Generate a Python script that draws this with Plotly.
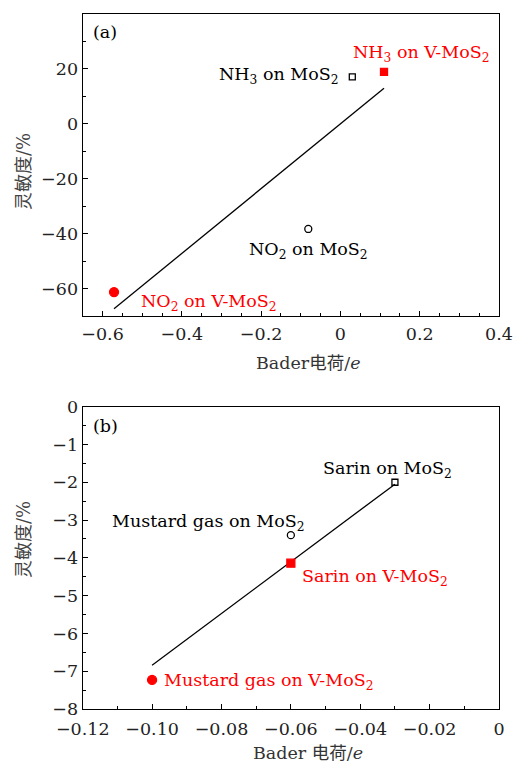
import plotly.graph_objects as go
from plotly.subplots import make_subplots

# ---------- data: panel (a) ----------
a_labels = ["NO<sub>2</sub> on V-MoS<sub>2</sub>", "NH<sub>3</sub> on V-MoS<sub>2</sub>",
            "NH<sub>3</sub> on MoS<sub>2</sub>", "NO<sub>2</sub> on MoS<sub>2</sub>"]
a_x = [-0.571, 0.11, 0.03, -0.081]
a_y = [-61.3, 18.9, 17.1, -38.3]
a_fit_x = [-0.571, 0.11]
a_fit_y = [-67.4, 13.0]
a_xticks = [-0.6, -0.4, -0.2, 0, 0.2, 0.4]
a_xticktext = ["−0.6", "−0.4", "−0.2", "0", "0.2", "0.4"]
a_yticks = [-60, -40, -20, 0, 20]
a_yticktext = ["−60", "−40", "−20", "0", "20"]

# ---------- data: panel (b) ----------
b_labels = ["Mustard gas on V-MoS<sub>2</sub>", "Sarin on V-MoS<sub>2</sub>",
            "Mustard gas on MoS<sub>2</sub>", "Sarin on MoS<sub>2</sub>"]
b_x = [-0.100, -0.060, -0.060, -0.030]
b_y = [-7.23, -4.14, -3.40, -2.00]
b_fit_x = [-0.100, -0.030]
b_fit_y = [-6.84, -2.05]
b_xticks = [-0.12, -0.10, -0.08, -0.06, -0.04, -0.02, 0]
b_xticktext = ["−0.12", "−0.10", "−0.08", "−0.06", "−0.04", "−0.02", "0"]
b_yticks = [0, -1, -2, -3, -4, -5, -6, -7, -8]
b_yticktext = ["0", "−1", "−2", "−3", "−4", "−5", "−6", "−7", "−8"]

RED = "#ff0000"
SERIF = "DejaVu Serif"
W, H = 513, 764
FS = 17.5

fig = make_subplots(rows=2, cols=1)

a_sym = ["circle", "square", "square-open", "circle-open"]
a_col = [RED, RED, "black", "black"]
a_size = [9, 7, 6, 7]
b_sym = ["circle", "square", "circle-open", "square-open"]
b_col = [RED, RED, "black", "black"]
b_size = [9, 8, 7, 6]

fig.add_trace(go.Scatter(x=a_fit_x, y=a_fit_y, mode="lines",
                         line=dict(color="black", width=1.3), showlegend=False), row=1, col=1)
fig.add_trace(go.Scatter(x=a_x, y=a_y, mode="markers", showlegend=False,
                         marker=dict(symbol=a_sym, color=a_col, size=a_size, opacity=1,
                                     line=dict(color=a_col, width=1.3))), row=1, col=1)
fig.add_trace(go.Scatter(x=b_fit_x, y=b_fit_y, mode="lines",
                         line=dict(color="black", width=1.3), showlegend=False), row=2, col=1)
fig.add_trace(go.Scatter(x=b_x, y=b_y, mode="markers", showlegend=False,
                         marker=dict(symbol=b_sym, color=b_col, size=b_size, opacity=1,
                                     line=dict(color=b_col, width=1.3))), row=2, col=1)

xd = [82.7 / W, 499 / W]
axis_common = dict(showline=True, linecolor="black", linewidth=1.3, mirror=True,
                   ticks="inside", ticklen=5, tickwidth=1, tickcolor="black",
                   showgrid=False, zeroline=False, automargin=False,
                   tickfont=dict(family=SERIF, size=FS, color="#222"))

fig.update_xaxes(row=1, col=1, domain=xd, range=[-0.65, 0.4], tickvals=a_xticks,
                 ticktext=a_xticktext, ticklabelstandoff=2,
                 minor=dict(dtick=0.05, tick0=0, ticks="inside", ticklen=3, tickcolor="black"),
                 **axis_common)
fig.update_yaxes(row=1, col=1, domain=[1 - 316 / H, 1 - 14 / H], range=[-70, 40],
                 tickvals=a_yticks, ticktext=a_yticktext,
                 minor=dict(dtick=10, tick0=0, ticks="inside", ticklen=3, tickcolor="black"),
                 **axis_common)
fig.update_xaxes(row=2, col=1, domain=xd, range=[-0.12, 0], tickvals=b_xticks,
                 ticktext=b_xticktext, ticklabelstandoff=4,
                 minor=dict(dtick=0.01, tick0=0, ticks="inside", ticklen=3, tickcolor="black"),
                 **axis_common)
fig.update_yaxes(row=2, col=1, domain=[1 - 709 / H, 1 - 406.7 / H], range=[-8, 0],
                 tickvals=b_yticks, ticktext=b_yticktext,
                 minor=dict(dtick=0.5, tick0=0, ticks="inside", ticklen=3, tickcolor="black"),
                 **axis_common)

def px_ann(text, x, y, color="black", xanchor="center", size=FS, family=SERIF, **kw):
    fig.add_annotation(text=text, x=x / W, y=1 - y / H, xref="paper", yref="paper",
                       xanchor=xanchor, yanchor="middle", showarrow=False,
                       font=dict(family=family, size=size, color=color), **kw)

# panel (a) labels
px_ann("(a)", 91, 32, xanchor="left")
px_ann(a_labels[1], 421, 53, color=RED)
px_ann(a_labels[2], 341, 76, xanchor="right")
px_ann(a_labels[3], 308, 250)
px_ann(a_labels[0], 139, 302, color=RED, xanchor="left")

# panel (b) labels
px_ann("(b)", 91, 426, xanchor="left")
px_ann(b_labels[3], 387, 469)
px_ann(b_labels[2], 208, 522)
px_ann(b_labels[1], 300, 577, color=RED, xanchor="left")
px_ann(b_labels[0], 162, 681, color=RED, xanchor="left")

# axis titles
px_ann("Bader<span style='font-family:Noto Sans CJK SC'>电荷</span>/<i>e</i>", 308, 361, color="#333")
px_ann("Bader <span style='font-family:Noto Sans CJK SC'>电荷</span>/<i>e</i>", 308, 751, color="#333")
px_ann("<span style='font-family:Noto Sans CJK SC'>灵敏度</span>/%", 22, 172, color="#444",
       size=18, textangle=-90)
px_ann("<span style='font-family:Noto Sans CJK SC'>灵敏度</span>/%", 22, 540, color="#444",
       size=18, textangle=-90)

fig.update_layout(width=W, height=H, margin=dict(l=0, r=0, t=0, b=0),
                  plot_bgcolor="white", paper_bgcolor="white", showlegend=False)

fig.write_html("out.html", config={"displayModeBar": False},
               post_script="document.body.style.margin='0';document.body.style.overflow='hidden';")
